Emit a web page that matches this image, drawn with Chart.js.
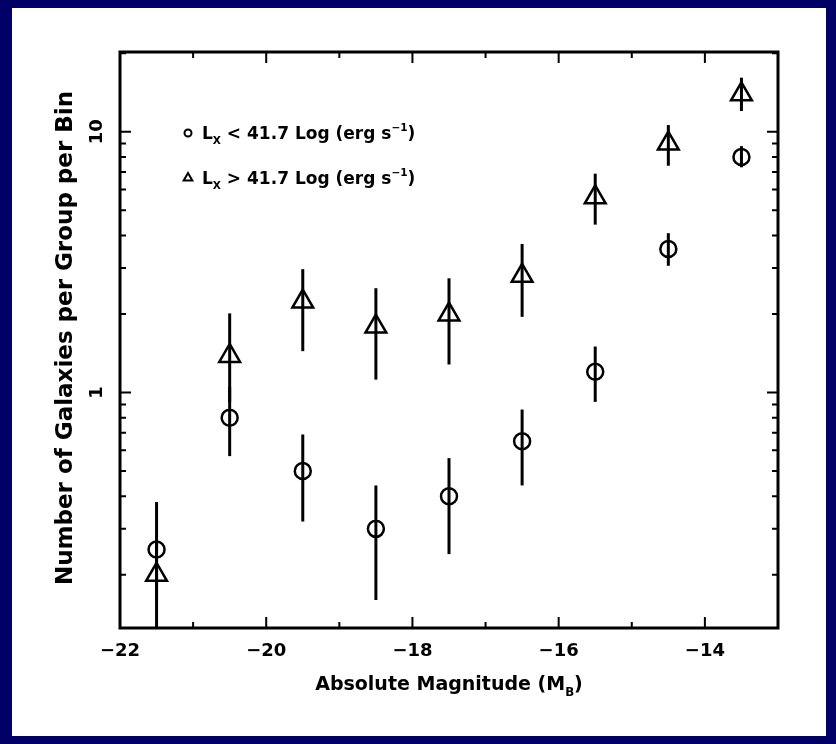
<!DOCTYPE html>
<html>
<head>
<meta charset="utf-8">
<script src="https://cdn.jsdelivr.net/npm/chart.js@4.4.0/dist/chart.umd.min.js"></script>
<style>
    html, body { margin: 0; padding: 0; background: #000066; }
    #frame { position: absolute; left: 12px; top: 8px; width: 814px; height: 728px; background: #ffffff; }
    #wrap { position: absolute; left: 0; top: 0; width: 836px; height: 744px; }
</style>
</head>
<body>
<div id="frame"></div>
<div id="wrap"><canvas id="chart"></canvas></div>
<script>
// Bin centres (absolute magnitude)
const magnitudes = [-21.5, -20.5, -19.5, -18.5, -17.5, -16.5, -15.5, -14.5, -13.5];

// L_X < 41.7 groups (circles)
const lowLxValues = [0.25, 0.80, 0.50, 0.30, 0.40, 0.65, 1.20, 3.55, 8.0];
const lowLxUpper  = [0.38, 1.05, 0.69, 0.44, 0.56, 0.86, 1.50, 4.08, 8.8];
const lowLxLower  = [0.16, 0.57, 0.32, 0.16, 0.24, 0.44, 0.92, 3.06, 7.3];

// L_X > 41.7 groups (triangles)
const highLxValues = [0.20, 1.38, 2.23, 1.79, 1.99, 2.80, 5.6, 9.0, 13.9];
const highLxUpper  = [0.27, 2.01, 2.97, 2.51, 2.74, 3.71, 6.9, 10.6, 16.1];
const highLxLower  = [0.10, 0.92, 1.44, 1.12, 1.28, 1.95, 4.4, 7.4, 12.0];

// Axis ticks and labels
const xTickValues = [-22, -20, -18, -16, -14];
const xTickLabels = ['\u221222', '\u221220', '\u221218', '\u221216', '\u221214'];
const yTickValues = [1, 10];
const yTickLabels = ['1', '10'];

const FONT = '"DejaVu Sans", sans-serif';

function drawRich(ctx, segs, x, y, size, align) {
    // segments with optional sub / sup, drawn left to right from a baseline
    let total = 0;
    segs.forEach(s => {
        ctx.font = 'bold ' + (s.sub || s.sup ? size * 0.62 : size) + 'px ' + FONT;
        s.w = ctx.measureText(s.t).width;
        total += s.w;
    });
    let cx = align === 'center' ? x - total / 2 : x;
    segs.forEach(s => {
        const fs = s.sub || s.sup ? size * 0.62 : size;
        ctx.font = 'bold ' + fs + 'px ' + FONT;
        let dy = 0;
        if (s.sub) dy = size * 0.3;
        if (s.sup) dy = -size * 0.45;
        ctx.fillText(s.t, cx, y + dy);
        cx += s.w;
    });
}

const errorBarPlugin = {
    id: 'errorBars',
    beforeDatasetsDraw(chart) {
        const ctx = chart.ctx;
        const xs = chart.scales.x, ys = chart.scales.y;
        const a = chart.chartArea;
        const sets = [[lowLxLower, lowLxUpper], [highLxLower, highLxUpper]];
        ctx.save();
        ctx.beginPath();
        ctx.rect(a.left, a.top, a.right - a.left, a.bottom - a.top);
        ctx.clip();
        ctx.strokeStyle = '#000';
        ctx.lineWidth = 3;
        sets.forEach(([lo, hi]) => {
            magnitudes.forEach((m, i) => {
                const px = xs.getPixelForValue(m);
                ctx.beginPath();
                ctx.moveTo(px, ys.getPixelForValue(lo[i]));
                ctx.lineTo(px, ys.getPixelForValue(hi[i]));
                ctx.stroke();
            });
        });
        ctx.restore();
    }
};

const axesPlugin = {
    id: 'pgAxes',
    afterDraw(chart) {
        const ctx = chart.ctx;
        const xs = chart.scales.x, ys = chart.scales.y;
        const a = chart.chartArea;
        ctx.save();
        ctx.strokeStyle = '#000';
        ctx.fillStyle = '#000';

        // frame
        ctx.lineWidth = 3;
        ctx.strokeRect(a.left, a.top, a.right - a.left, a.bottom - a.top);

        // x ticks (inside, bottom and top)
        ctx.lineWidth = 2;
        for (let v = -22; v <= -13; v++) {
            const px = xs.getPixelForValue(v);
            const len = v % 2 === 0 ? 11 : 6;
            ctx.beginPath();
            ctx.moveTo(px, a.bottom); ctx.lineTo(px, a.bottom - len);
            ctx.moveTo(px, a.top); ctx.lineTo(px, a.top + len);
            ctx.stroke();
        }

        // y ticks (log, inside, left and right)
        [0.1, 1, 10].forEach(dec => {
            for (let k = 1; k <= 9; k++) {
                const v = dec * k;
                if (v < ys.min || v > ys.max) continue;
                const py = ys.getPixelForValue(v);
                const len = k === 1 ? 11 : 6;
                ctx.beginPath();
                ctx.moveTo(a.left, py); ctx.lineTo(a.left + len, py);
                ctx.moveTo(a.right, py); ctx.lineTo(a.right - len, py);
                ctx.stroke();
            }
        });

        // x tick labels
        ctx.font = 'bold 18px ' + FONT;
        ctx.textAlign = 'center';
        ctx.textBaseline = 'middle';
        xTickValues.forEach((v, i) => {
            ctx.fillText(xTickLabels[i], xs.getPixelForValue(v), a.bottom + 23);
        });

        // y tick labels (rotated)
        yTickValues.forEach((v, i) => {
            ctx.save();
            ctx.translate(a.left - 23, ys.getPixelForValue(v));
            ctx.rotate(-Math.PI / 2);
            ctx.fillText(yTickLabels[i], 0, 0);
            ctx.restore();
        });

        // axis titles
        ctx.textAlign = 'left';
        ctx.textBaseline = 'alphabetic';
        drawRich(ctx, [{ t: 'Absolute Magnitude (M' }, { t: 'B', sub: true }, { t: ')' }],
            (a.left + a.right) / 2, a.bottom + 62, 19, 'center');

        ctx.save();
        ctx.translate(a.left - 48, (a.top + a.bottom) / 2 - 2);
        ctx.rotate(-Math.PI / 2);
        ctx.font = 'bold 23px ' + FONT;
        ctx.textAlign = 'center';
        ctx.fillText('Number of Galaxies per Group per Bin', 0, 0);
        ctx.restore();

        // legend
        const lx = a.left + 68;
        const rows = [
            { style: 'circle', r: 3.5, y: a.top + 81, op: '<' },
            { style: 'triangle', r: 5, y: a.top + 126, op: '>' }
        ];
        rows.forEach(row => {
            ctx.fillStyle = 'rgba(0,0,0,0)';
            Chart.helpers.drawPoint(ctx, { pointStyle: row.style, radius: row.r, borderWidth: 2 }, lx, row.y);
            ctx.fillStyle = '#000';
            drawRich(ctx, [
                { t: 'L' }, { t: 'X', sub: true },
                { t: ' ' + row.op + ' 41.7 Log (erg s' }, { t: '\u22121', sup: true }, { t: ')' }
            ], lx + 14, row.y + 6, 17, 'left');
        });

        ctx.restore();
    }
};

const ctx = document.getElementById('chart').getContext('2d');

new Chart(ctx, {
    type: 'scatter',
    data: {
        datasets: [{
            label: 'L_X < 41.7',
            data: magnitudes.map((m, i) => ({ x: m, y: lowLxValues[i] })),
            pointStyle: 'circle',
            pointRadius: 8,
            borderWidth: 2.5,
            borderColor: '#000',
            backgroundColor: 'rgba(0,0,0,0)'
        }, {
            label: 'L_X > 41.7',
            data: magnitudes.map((m, i) => ({ x: m, y: highLxValues[i] })),
            pointStyle: 'triangle',
            pointRadius: 12,
            borderWidth: 2.5,
            borderColor: '#000',
            backgroundColor: 'rgba(0,0,0,0)'
        }]
    },
    options: {
        responsive: true,
        maintainAspectRatio: false,
        animation: false,
        layout: { padding: { left: 120, top: 52, right: 58, bottom: 116 } },
        plugins: { legend: { display: false }, tooltip: { enabled: false } },
        scales: {
            x: { type: 'linear', min: -22, max: -13, display: false },
            y: { type: 'logarithmic', min: 0.125, max: 20.2, display: false }
        }
    },
    plugins: [errorBarPlugin, axesPlugin]
});
</script>
</body>
</html>
